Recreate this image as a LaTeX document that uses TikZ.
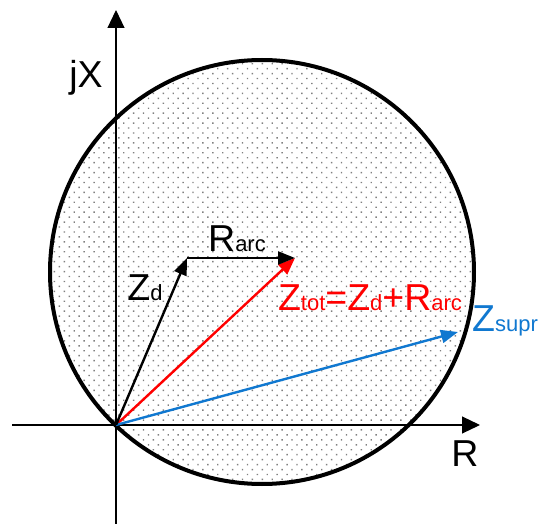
\documentclass[tikz,border=0pt]{standalone}
\usepackage{fontspec}
\setmainfont{Liberation Sans}
\usetikzlibrary{arrows.meta,patterns.meta}

\definecolor{suprblue}{RGB}{16,120,208}
\newcommand{\lbl}{\fontsize{37.5}{40}\selectfont}
\newcommand{\sub}[1]{{\fontsize{22}{24}\selectfont #1}}

\begin{document}
\begin{tikzpicture}[
    x=1pt, y=-1pt,
    axis/.style={line width=1.2pt, -{Triangle[length=18pt, width=17pt]}},
    vec/.style={line width=2.4pt, -{Triangle[length=17pt, width=13pt]}},
    region/.style={
        line width=4pt,
        pattern={Dots[distance=7pt, angle=45, radius=1pt]},
        pattern color=black!50
    },
    every node/.style={font=\lbl, inner sep=0pt}
]
\useasboundingbox (0,0) rectangle (539,524);

% Zone of operation
\coordinate (C) at (262,272);
\draw[region] (C) circle[radius=212];

% Axes
\coordinate (O) at (116,425);
\coordinate (xstart) at (12,425);
\coordinate (xend) at (480,425);
\coordinate (ystart) at (116,524);
\coordinate (yend) at (116,10);
\draw[axis] (xstart) -- (xend);
\draw[axis] (ystart) -- (yend);

\node (jX) at (86,78) {jX};
\node (R) at (465,454) {R};

% Impedances
\coordinate (Zd) at (187,258);
\coordinate (Ztot) at (295,258);
\coordinate (Zsupr) at (458,332);

\draw[vec, red] (O) -- (Ztot);
\draw[vec, suprblue] (O) -- (Zsupr);
\draw[vec] (O) -- (Zd);
\draw[vec] (Zd) -- (Ztot);

\node (lZd) at (145,288) {Z\sub{d}};
\node (lRarc) at (237,239) {R\sub{arc}};
\node[red] (lZtot) at (370,298) {Z\sub{tot}=Z\sub{d}+R\sub{arc}};
\node[suprblue, anchor=west] (lZsupr) at (472,321) {Z\sub{supr}};

\end{tikzpicture}
\end{document}
